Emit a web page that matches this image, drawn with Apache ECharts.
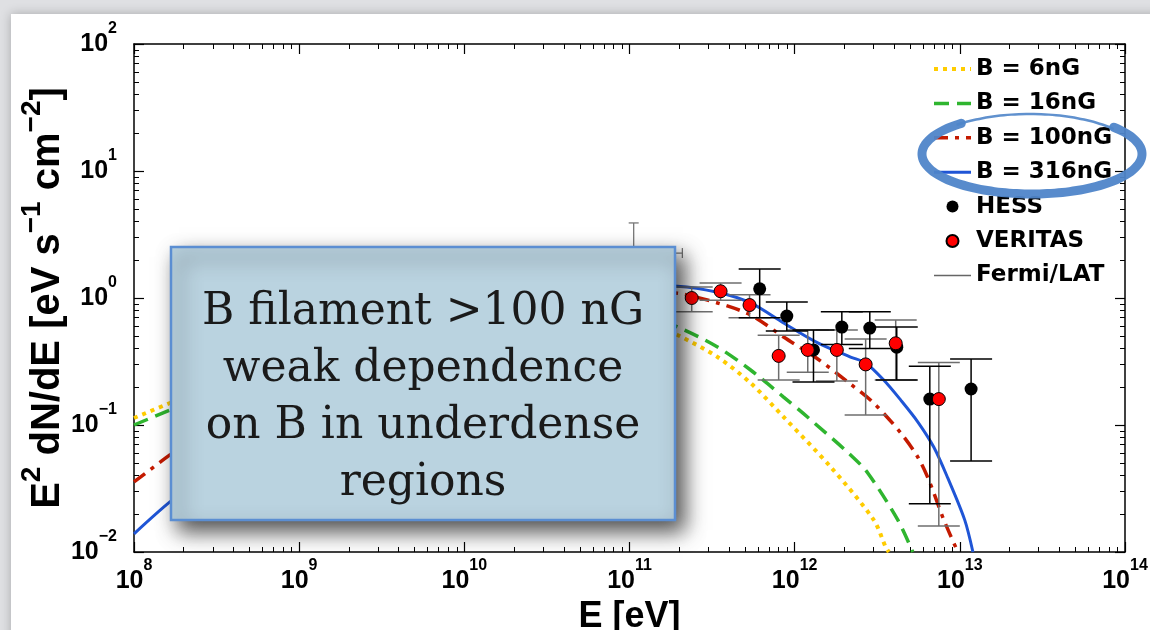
<!DOCTYPE html>
<html>
<head>
<meta charset="utf-8">
<script src="https://cdn.jsdelivr.net/npm/echarts@6/dist/echarts.min.js"></script>
<style>
  html, body { margin: 0; padding: 0; background: #dfe0e3; }
  #chart { width: 1150px; height: 630px; }
</style>
</head>
<body>
<div id="chart"></div>
<script>
// Axis decades
const majorX = [1e8, 1e9, 1e10, 1e11, 1e12, 1e13, 1e14];
const majorY = [1e-2, 1e-1, 1, 10, 100];

// Cascade model curves: E [eV] and E^2 dN/dE [eV s^-1 cm^-2]
const b6E   = [1e8, 1.65e8, 3.16e8, 1e9, 3.16e9, 1e10, 3.16e10, 6.31e10, 1e11, 1.95e11, 3.41e11, 5.41e11, 8.57e11, 1.65e12, 3.01e12, 3.56e12, 3.72e12];
const b6F   = [0.1135, 0.149, 0.209, 0.363, 0.562, 0.81, 0.95, 0.87, 0.76, 0.512, 0.343, 0.214, 0.1156, 0.0468, 0.0179, 0.0109, 0.0100];
const b16E  = [1e8, 1.65e8, 3.16e8, 1e9, 3.16e9, 1e10, 3.16e10, 6.31e10, 1e11, 1.95e11, 3.41e11, 5.41e11, 8.57e11, 1.20e12, 2.18e12, 2.77e12, 4.21e12, 5.19e12];
const b16F  = [0.100, 0.131, 0.185, 0.33, 0.54, 0.78, 0.93, 0.89, 0.80, 0.592, 0.411, 0.271, 0.166, 0.115, 0.0581, 0.0419, 0.0179, 0.0100];
const b100E = [1e8, 1.65e8, 3.16e8, 1e9, 3.16e9, 1e10, 3.16e10, 7.94e10, 1.95e11, 3.41e11, 5.41e11, 8.57e11, 1.38e12, 2.18e12, 3.01e12, 4.39e12, 5.56e12, 6.49e12, 8.00e12, 9.73e12];
const b100F = [0.0356, 0.0581, 0.105, 0.251, 0.501, 0.76, 1.0, 1.15, 1.09, 0.914, 0.735, 0.493, 0.331, 0.210, 0.149, 0.0865, 0.056, 0.0369, 0.0179, 0.0100];
const b316E = [1e8, 1.65e8, 3.16e8, 1e9, 3.16e9, 1e10, 3.16e10, 1e11, 1.95e11, 3.41e11, 5.41e11, 8.57e11, 1.38e12, 2.18e12, 2.69e12, 3.46e12, 4.39e12, 5.56e12, 6.95e12, 8.45e12, 1.07e13, 1.20e13];
const b316F = [0.0139, 0.0248, 0.0468, 0.126, 0.302, 0.631, 1.05, 1.26, 1.24, 1.11, 0.914, 0.635, 0.443, 0.343, 0.308, 0.226, 0.157, 0.106, 0.0671, 0.0383, 0.0179, 0.0100];

// HESS spectrum points with flux errors
const hessE  = [6.14e11, 8.96e11, 1.30e12, 1.93e12, 2.85e12, 4.15e12, 6.58e12, 1.17e13];
const hessF  = [1.18, 0.72, 0.39, 0.59, 0.58, 0.41, 0.160, 0.192];
const hessLo = [0.70, 0.55, 0.218, 0.43, 0.40, 0.226, 0.024, 0.052];
const hessHi = [1.69, 0.93, 0.56, 0.78, 0.78, 0.59, 0.29, 0.331];

// VERITAS spectrum points with flux errors
const verE  = [2.38e11, 3.56e11, 5.33e11, 8.0e11, 1.2e12, 1.8e12, 2.69e12, 4.09e12, 7.46e12];
const verF  = [1.00, 1.13, 0.88, 0.35, 0.39, 0.39, 0.30, 0.44, 0.160];
const verLo = [0.78, 0.96, 0.70, 0.226, 0.26, 0.222, 0.12, 0.226, 0.016];
const verHi = [1.22, 1.31, 1.06, 0.51, 0.56, 0.56, 0.475, 0.67, 0.31];

// Fermi/LAT point: energy bin edges and flux range
const fermiE    = [1.06e11];
const fermiF    = [2.26];
const fermiLo   = [1.2];
const fermiHi   = [3.9];
const fermiEmin = [5.2e10];
const fermiEmax = [2.09e11];

const FONT = '"Liberation Sans", Arial, Helvetica, sans-serif';
const LEGEND_FONT = '"DejaVu Sans", "Liberation Sans", sans-serif';
const zip = (a, b) => a.map((v, i) => [v, b[i]]);
const minorOf = (lo, hi) => {
  const out = [];
  for (let d = lo; d < hi; d++) for (let m = 2; m <= 9; m++) out.push(m * Math.pow(10, d));
  return out;
};
const minorX = minorOf(8, 14);
const minorY = minorOf(-2, 2);
const sup = v => {
  const e = Math.round(Math.log10(v));
  return '{b|10}{s|' + (e < 0 ? '\u2212' + (-e) : e) + '}';
};
const tickRich = {
  b: { fontSize: 25, fontWeight: 'bold', fontFamily: FONT, color: '#000', lineHeight: 47, verticalAlign: 'middle' },
  s: { fontSize: 16, fontWeight: 'bold', fontFamily: FONT, color: '#000', lineHeight: 16, verticalAlign: 'top' }
};
const nameRich = {
  b: { fontSize: 40, fontWeight: 'bold', fontFamily: FONT, color: '#000', lineHeight: 60, verticalAlign: 'middle' },
  s: { fontSize: 28, fontWeight: 'bold', fontFamily: FONT, color: '#000', lineHeight: 28, verticalAlign: 'top' }
};

const axisLine = { show: true, lineStyle: { color: '#000', width: 1.5 } };
function logAxis(extra) {
  return Object.assign({
    type: 'log', logBase: 10, splitLine: { show: false }, minorTick: { show: false },
    axisLine: { show: false }, axisLabel: { show: false }
  }, extra);
}
const xAxes = [
  logAxis({ position: 'bottom', min: 1e8, max: 1e14, axisLine,
    axisTick: { inside: true, length: 10, customValues: majorX, lineStyle: { color: '#000', width: 1.2 } },
    axisLabel: { show: true, customValues: majorX, formatter: sup, rich: tickRich, margin: 6 },
    name: 'E [eV]', nameLocation: 'middle', nameGap: 39,
    nameTextStyle: { fontSize: 36, fontWeight: 'bold', fontFamily: FONT, color: '#000' } }),
  logAxis({ position: 'bottom', min: 1e8, max: 1e14,
    axisTick: { inside: true, length: 5, customValues: minorX, lineStyle: { color: '#000', width: 1 } } }),
  logAxis({ position: 'top', min: 1e8, max: 1e14, axisLine,
    axisTick: { inside: true, length: 10, customValues: majorX, lineStyle: { color: '#000', width: 1.2 } } }),
  logAxis({ position: 'top', min: 1e8, max: 1e14,
    axisTick: { inside: true, length: 5, customValues: minorX, lineStyle: { color: '#000', width: 1 } } })
];
const yAxes = [
  logAxis({ position: 'left', min: 1e-2, max: 1e2, axisLine,
    axisTick: { inside: true, length: 10, customValues: majorY, lineStyle: { color: '#000', width: 1.2 } },
    axisLabel: { show: true, customValues: majorY, formatter: sup, rich: tickRich, margin: 17, align: 'right' },
    name: '{b|E}{s|2}{b| dN/dE [eV s}{s|\u22121}{b| cm}{s|\u22122}{b|]}',
    nameLocation: 'middle', nameRotate: 90, nameGap: 56, nameMoveOverlap: false,
    nameTextStyle: { rich: nameRich } }),
  logAxis({ position: 'left', min: 1e-2, max: 1e2,
    axisTick: { inside: true, length: 5, customValues: minorY, lineStyle: { color: '#000', width: 1 } } }),
  logAxis({ position: 'right', min: 1e-2, max: 1e2, axisLine,
    axisTick: { inside: true, length: 10, customValues: majorY, lineStyle: { color: '#000', width: 1.2 } } }),
  logAxis({ position: 'right', min: 1e-2, max: 1e2,
    axisTick: { inside: true, length: 5, customValues: minorY, lineStyle: { color: '#000', width: 1 } } })
];

// Vertical error bars with horizontal caps, optional horizontal energy bins
function barRenderer(color, width, capW, endTick) {
  return function (params, api) {
    const e = api.value(0), lo = api.value(2), hi = api.value(3);
    const pLo = api.coord([e, lo]);
    const pHi = api.coord([e, hi]);
    const st = { stroke: color, lineWidth: width };
    const kids = [
      { type: 'line', shape: { x1: pLo[0], y1: pLo[1], x2: pHi[0], y2: pHi[1] }, style: st },
      { type: 'line', shape: { x1: pLo[0] - capW / 2, y1: pLo[1], x2: pLo[0] + capW / 2, y2: pLo[1] }, style: st },
      { type: 'line', shape: { x1: pHi[0] - capW / 2, y1: pHi[1], x2: pHi[0] + capW / 2, y2: pHi[1] }, style: st }
    ];
    if (endTick) {
      const f = api.value(1);
      const a = api.coord([api.value(4), f]);
      const b = api.coord([api.value(5), f]);
      kids.push({ type: 'line', shape: { x1: a[0], y1: a[1], x2: b[0], y2: b[1] }, style: st });
      kids.push({ type: 'line', shape: { x1: a[0], y1: a[1] - endTick, x2: a[0], y2: a[1] + endTick }, style: st });
      kids.push({ type: 'line', shape: { x1: b[0], y1: b[1] - endTick, x2: b[0], y2: b[1] + endTick }, style: st });
    }
    return { type: 'group', children: kids };
  };
}

function curve(name, E, F, color, width, dash, z) {
  return {
    name, type: 'line', data: zip(E, F), symbol: 'none', smooth: 0.3, clip: true, z,
    lineStyle: { color, width, type: dash, cap: 'butt' }, itemStyle: { color }
  };
}

// Hand-drawn highlight ring round the strongest-field legend entries
const ringThick = [], ringThin = [];
for (let a = -42; a <= 232; a += 4) {
  const t = a * Math.PI / 180;
  ringThick.push([1032 + 110 * Math.cos(t), 154 + 40 * Math.sin(t)]);
}
for (let a = 228; a <= 322; a += 4) {
  const t = a * Math.PI / 180;
  ringThin.push([1030 + 108 * Math.cos(t), 155 + 41 * Math.sin(t)]);
}

const lineOnly = { opacity: 0 };
const chart = echarts.init(document.getElementById('chart'), null, { renderer: 'canvas' });
chart.setOption({
  animation: false,
  backgroundColor: '#dfe0e3',
  grid: { left: 134, top: 44, right: 25, bottom: 78, containLabel: false, outerBoundsMode: 'none' },
  xAxis: xAxes,
  yAxis: yAxes,
  legend: {
    orient: 'vertical', left: 932, top: 57, padding: 0, itemWidth: 37, itemHeight: 12, itemGap: 10.4,
    selectedMode: false,
    lineStyle: { width: 'inherit' },
    textStyle: { fontSize: 23, fontWeight: 'bold', fontFamily: LEGEND_FONT, color: '#000', lineHeight: 24 },
    data: [
      { name: 'B = 6nG', itemStyle: lineOnly },
      { name: 'B = 16nG', itemStyle: lineOnly },
      { name: 'B = 100nG', itemStyle: lineOnly },
      { name: 'B = 316nG', itemStyle: lineOnly },
      'HESS', 'VERITAS',
      { name: 'Fermi/LAT', itemStyle: lineOnly }
    ]
  },
  graphic: [
    { type: 'rect', z: -100, shape: { x: 11, y: 14, width: 1200, height: 700 },
      style: { fill: '#ffffff', shadowBlur: 10, shadowColor: 'rgba(0,0,0,0.25)' } },
    { type: 'rect', z: 100, shape: { x: 171, y: 247, width: 504, height: 273 },
      style: { fill: '#bad3e0', stroke: '#5b8ed2', lineWidth: 2.5,
        shadowBlur: 20, shadowOffsetX: 8, shadowOffsetY: 10, shadowColor: 'rgba(0,0,0,0.7)' } },
    { type: 'text', z: 101, x: 423, y: 398,
      style: { text: 'B filament >100 nG\nweak dependence\non B in underdense\nregions',
        font: '44px "DejaVu Serif", serif', fill: '#1a1a1a', align: 'center', verticalAlign: 'middle', lineHeight: 57 } },
    { type: 'polyline', z: 102, shape: { points: ringThick, smooth: 0.3 },
      style: { stroke: '#4f85c9', lineWidth: 9, fill: null, lineCap: 'round', opacity: 0.95 } },
    { type: 'polyline', z: 102, shape: { points: ringThin, smooth: 0.3 },
      style: { stroke: '#4f85c9', lineWidth: 2.5, fill: null, lineCap: 'round', opacity: 0.9 } }
  ],
  series: [
    curve('B = 6nG', b6E, b6F, '#ffcc00', 4, [4, 5], 2),
    curve('B = 16nG', b16E, b16F, '#2fb52f', 3.5, [15, 8], 2),
    curve('B = 100nG', b100E, b100F, '#c41a00', 3.5, [14, 7, 4, 7], 2),
    curve('B = 316nG', b316E, b316F, '#1f55d6', 3, 'solid', 2),
    { name: 'HESS', type: 'scatter', data: zip(hessE, hessF), symbol: 'circle', symbolSize: 13, z: 5,
      itemStyle: { color: '#000', opacity: 1 } },
    { name: 'VERITAS', type: 'scatter', data: zip(verE, verF), symbol: 'circle', symbolSize: 13, z: 6,
      itemStyle: { color: '#ff0000', borderColor: '#000', borderWidth: 1, opacity: 1 } },
    { name: 'Fermi/LAT', type: 'line', data: [], symbol: 'none', lineStyle: { color: '#666', width: 1.5 }, itemStyle: { color: '#666' } },
    { name: 'HESS', type: 'custom', z: 4, clip: true, encode: { x: 0, y: 1 },
      data: hessE.map((e, i) => [e, hessF[i], hessLo[i], hessHi[i]]),
      renderItem: barRenderer('#000', 1.5, 42, 0) },
    { name: 'VERITAS', type: 'custom', z: 3, clip: true, encode: { x: 0, y: 1 },
      data: verE.map((e, i) => [e, verF[i], verLo[i], verHi[i]]),
      renderItem: barRenderer('#6e6e6e', 1.5, 42, 0) },
    { name: 'Fermi/LAT', type: 'custom', z: 3, clip: true, encode: { x: 0, y: 1 },
      data: fermiE.map((e, i) => [e, fermiF[i], fermiLo[i], fermiHi[i], fermiEmin[i], fermiEmax[i]]),
      renderItem: barRenderer('#777', 1.3, 10, 5) }
  ]
});
</script>
</body>
</html>
